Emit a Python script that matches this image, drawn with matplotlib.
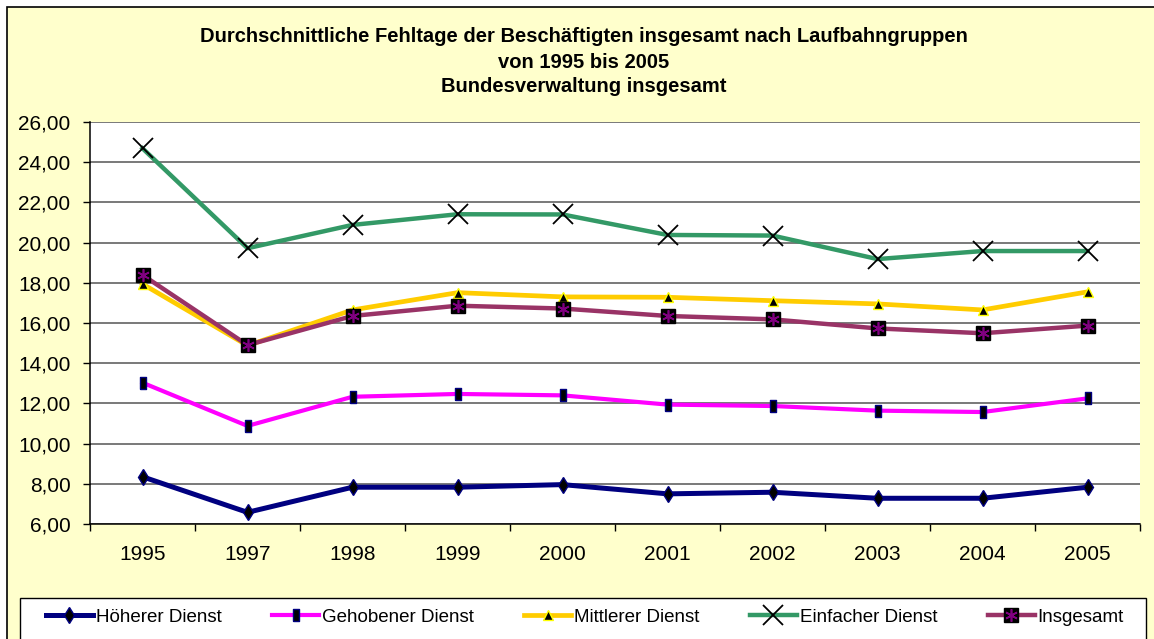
import matplotlib
matplotlib.use("Agg")
import matplotlib.pyplot as plt
from matplotlib.patches import Rectangle
from matplotlib.ticker import FuncFormatter

plt.rcParams["font.family"] = ["Liberation Sans", "DejaVu Sans"]

years = ["1995", "1997", "1998", "1999", "2000", "2001", "2002", "2003", "2004", "2005"]
hoeherer = [8.35, 6.58, 7.83, 7.83, 7.96, 7.50, 7.58, 7.28, 7.28, 7.83]
gehobener = [13.03, 10.88, 12.33, 12.47, 12.40, 11.94, 11.87, 11.64, 11.57, 12.25]
mittlerer = [17.94, 14.88, 16.65, 17.51, 17.30, 17.28, 17.11, 16.95, 16.65, 17.55]
einfacher = [24.69, 19.72, 20.88, 21.41, 21.40, 20.38, 20.35, 19.18, 19.58, 19.58]
insgesamt = [18.39, 14.90, 16.35, 16.86, 16.72, 16.35, 16.18, 15.73, 15.49, 15.87]

W, H = 1154, 639


def fx(px):
    return px / W


def fy(py):
    return 1 - py / H


fig = plt.figure(figsize=(W / 100, H / 100), dpi=100, facecolor="white")
# chart area background with its border (right/bottom edge cut off)
fig.patches.append(Rectangle((fx(7), fy(660)), fx(1170) - fx(7), fy(7) - fy(660),
                             transform=fig.transFigure, facecolor="#FFFFCC",
                             edgecolor="black", linewidth=1.2, zorder=0))
# legend box
fig.patches.append(Rectangle((fx(20), fy(660)), fx(1146) - fx(20), fy(598) - fy(660),
                             transform=fig.transFigure, facecolor="white",
                             edgecolor="black", linewidth=1.0, zorder=1))

ax = fig.add_axes([fx(90), fy(524), fx(1140) - fx(90), fy(122) - fy(524)])
ax.set_zorder(2)
ax.set_facecolor("white")

# narrow upright rectangle, as used for "Gehobener Dienst"
bar_marker = [(-0.55, -1), (0.55, -1), (0.55, 1), (-0.55, 1), (-0.55, -1)]

x = list(range(len(years)))
l1, = ax.plot(x, hoeherer, color="#000080", lw=3.6, marker="d", ms=8,
              mfc="black", mec="#000080", mew=1)
l2, = ax.plot(x, gehobener, color="#FF00FF", lw=3.0, marker=bar_marker, ms=8,
              mfc="black", mec="#000080", mew=1)
l3, = ax.plot(x, mittlerer, color="#FFCC00", lw=3.4, marker="^", ms=7,
              mfc="black", mec="#FFFF00", mew=1)
l4, = ax.plot(x, einfacher, color="#339966", lw=3.2, marker="x", ms=14,
              mec="black", mew=1.3)
l5, = ax.plot(x, insgesamt, color="#993366", lw=3.2, marker="s", ms=10,
              mfc="black", mec="black")
l5b, = ax.plot(x, insgesamt, ls="none", marker=(6, 2, 0), ms=9,
               mec="#800080", mew=1.2)

ax.set_ylim(6, 26)
ax.set_yticks(range(6, 27, 2))
ax.yaxis.set_major_formatter(FuncFormatter(lambda v, p: f"{v:.2f}".replace(".", ",")))
ax.set_xlim(-0.5, len(years) - 0.5)
ax.set_xticks([i - 0.5 for i in range(len(years) + 1)])
ax.set_xticklabels([])
ax.set_xticks(x, minor=True)
ax.set_xticklabels(years, minor=True)
ax.tick_params(axis="x", which="major", length=5, direction="out", width=1)
ax.tick_params(axis="x", which="minor", length=0, pad=15, labelsize=15)
ax.tick_params(axis="y", length=5, direction="out", pad=9, labelsize=15, width=1)

ax.grid(axis="y", color="#555555", lw=1.1)
ax.set_axisbelow(True)
for side in ["top", "right"]:
    ax.spines[side].set_visible(False)
for side in ["left", "bottom"]:
    ax.spines[side].set_color("black")
    ax.spines[side].set_linewidth(1.1)

title_lines = ["Durchschnittliche Fehltage der Beschäftigten insgesamt nach Laufbahngruppen",
               "von 1995 bis 2005",
               "Bundesverwaltung insgesamt"]
for line, py in zip(title_lines, [37, 62, 87]):
    fig.text(fx(584), fy(py), line, ha="center", va="center",
             fontsize=14.5, fontweight="bold")

labels = ["Höherer Dienst", "Gehobener Dienst", "Mittlerer Dienst",
          "Einfacher Dienst", "Insgesamt"]
leg = fig.legend([l1, l2, l3, l4, (l5, l5b)], labels, ncol=5, frameon=False,
                 loc="center left", bbox_to_anchor=(fx(46), fy(617)),
                 fontsize=13.5, handlelength=2.5, handletextpad=0.15,
                 columnspacing=2.7, borderaxespad=0, borderpad=0)
leg.set_zorder(3)

fig.savefig("out.png", dpi=100, facecolor=fig.get_facecolor())
